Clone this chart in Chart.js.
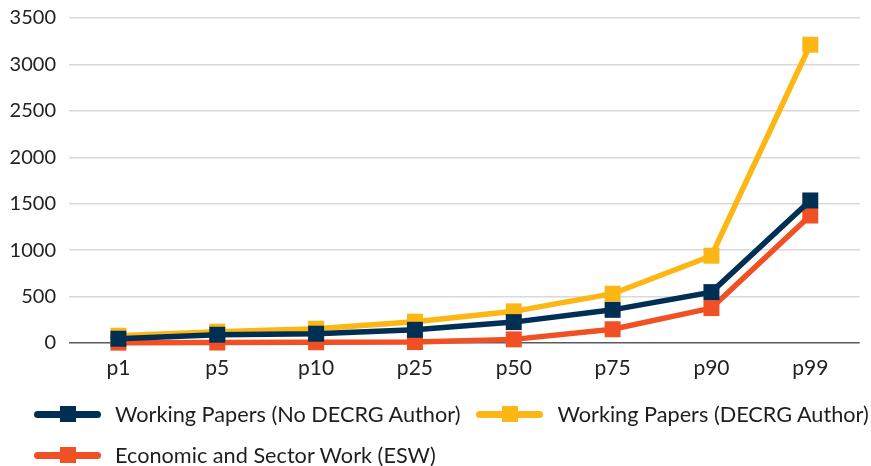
<!DOCTYPE html>
<html>
<head>
<meta charset="utf-8">
<script src="https://cdn.jsdelivr.net/npm/chart.js@4.4.1/dist/chart.umd.min.js"></script>
<style>
  html, body { margin: 0; padding: 0; background: #ffffff; }
  #wrap { position: relative; width: 871px; height: 466px; overflow: hidden; }
  #chart { position: absolute; left: 0; top: 0; }
  #legend {
    position: absolute; left: 34px; top: 400px; width: 1200px;
    display: flex; flex-wrap: wrap; row-gap: 6.5px;
    font-family: Lato, "Noto Sans", sans-serif; font-size: 21.7px; color: #1e1e1e;
  }
  .item { display: flex; align-items: center; height: 28px; margin-right: 16px; white-space: nowrap; }
  .swatch { position: relative; width: 67px; height: 18px; margin-right: 14px; flex: none; }
  .swatch .ln { position: absolute; left: 0; right: 0; top: 5.5px; height: 7px; border-radius: 3.5px; }
  .swatch .mk { position: absolute; left: 26px; top: 1px; width: 16px; height: 16px; }
  .break { flex-basis: 100%; height: 0; }
</style>
</head>
<body>
<div id="wrap">
  <canvas id="chart" width="871" height="466"></canvas>
  <div id="legend"></div>
</div>
<script>
// Percentile categories along the x axis
const percentiles = ['p1', 'p5', 'p10', 'p25', 'p50', 'p75', 'p90', 'p99'];

// Series values per percentile
const wpNoDecrg = [46, 89, 100, 142, 225, 357, 548, 1535];
const wpDecrg   = [78, 122, 154, 230, 341, 531, 940, 3212];
const esw       = [4, 5, 8, 10, 39, 148, 376, 1373];

// Series names
const seriesNames = [
  'Working Papers (No DECRG Author)',
  'Working Papers (DECRG Author)',
  'Economic and Sector Work (ESW)'
];

// Y axis tick range
const yTickMin = 0;
const yTickMax = 3500;
const yTickStep = 500;

const NAVY = '#002f54';
const GOLD = '#fdb714';
const ORANGE = '#f05023';

function lineSeries(label, data, color) {
  return {
    label: label,
    data: data,
    borderColor: color,
    backgroundColor: color,
    borderWidth: 5.5,
    tension: 0,
    pointStyle: 'rect',
    pointRadius: 11.3,
    pointHoverRadius: 11.3,
    pointBorderWidth: 0,
    pointBackgroundColor: color,
    clip: false
  };
}

const yTickFont = { family: 'Lato, "Noto Sans", sans-serif', size: 20 };
const xTickFont = { family: 'Lato, "Noto Sans", sans-serif', size: 21 };

const chart = new Chart(document.getElementById('chart'), {
  type: 'line',
  data: {
    labels: percentiles,
    datasets: [
      lineSeries(seriesNames[0], wpNoDecrg, NAVY),
      lineSeries(seriesNames[1], wpDecrg, GOLD),
      lineSeries(seriesNames[2], esw, ORANGE)
    ]
  },
  options: {
    responsive: false,
    animation: false,
    devicePixelRatio: 1,
    layout: { padding: { left: 0, right: 11, top: 18, bottom: 83 } },
    plugins: {
      legend: { display: false },
      tooltip: { enabled: false }
    },
    scales: {
      x: {
        offset: true,
        grid: { display: false, drawTicks: false },
        border: { display: false },
        ticks: { color: '#222222', font: xTickFont, padding: 13, maxRotation: 0 },
        afterFit: s => { s.height = 40; s.paddingLeft = 0; s.paddingRight = 0; }
      },
      y: {
        min: yTickMin,
        max: yTickMax,
        border: { display: false },
        grid: {
          drawTicks: false,
          color: c => (c.tick && c.tick.value === 0 ? '#5a5a5a' : '#d9d9d9'),
          lineWidth: 1.5
        },
        ticks: {
          stepSize: yTickStep,
          color: '#222222',
          font: yTickFont,
          padding: 13,
          callback: v => String(v)
        },
        afterFit: s => { s.width = 69; s.paddingTop = 0; s.paddingBottom = 0; }
      }
    }
  }
});

// HTML legend built from the chart's datasets
const legendEl = document.getElementById('legend');
chart.data.datasets.forEach((ds, i) => {
  if (i === 2) {
    const br = document.createElement('div');
    br.className = 'break';
    legendEl.appendChild(br);
  }
  const item = document.createElement('div');
  item.className = 'item';
  const sw = document.createElement('span');
  sw.className = 'swatch';
  const ln = document.createElement('span');
  ln.className = 'ln';
  ln.style.background = ds.borderColor;
  const mk = document.createElement('span');
  mk.className = 'mk';
  mk.style.background = ds.borderColor;
  sw.appendChild(ln);
  sw.appendChild(mk);
  const tx = document.createElement('span');
  tx.textContent = ds.label;
  item.appendChild(sw);
  item.appendChild(tx);
  legendEl.appendChild(item);
});
</script>
</body>
</html>
